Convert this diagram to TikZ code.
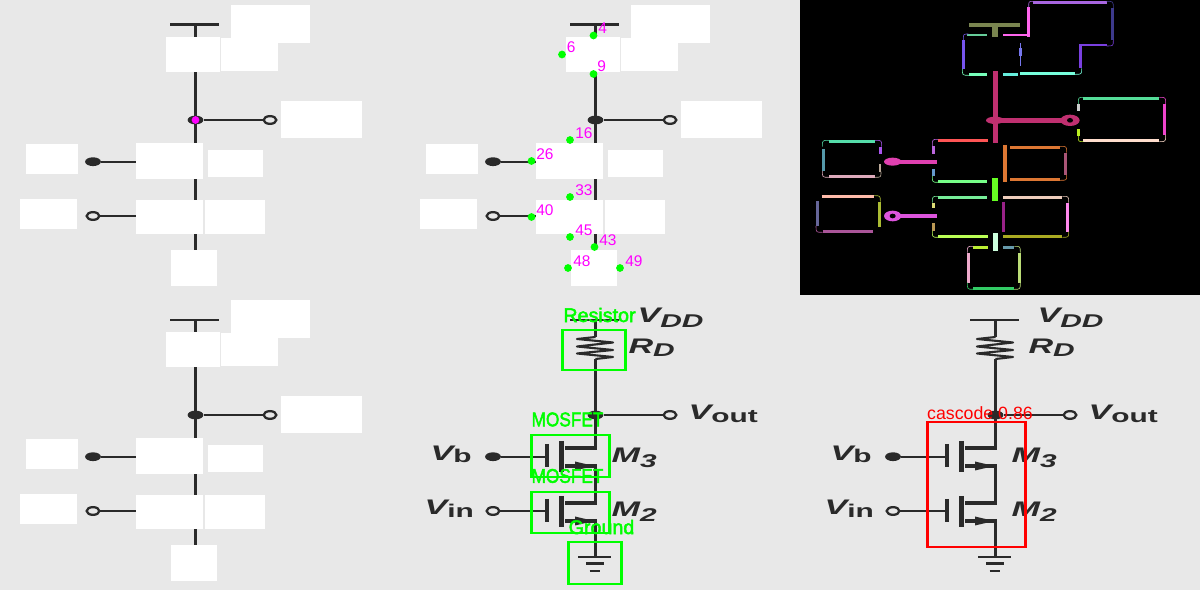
\documentclass[tikz,border=0pt]{standalone}
\usepackage{fontspec}
\usetikzlibrary{shapes.geometric}
\setmainfont{Liberation Sans}
\newfontfamily\hershey[FakeBold=2.5]{Liberation Sans}
\definecolor{bgc}{HTML}{E8E8E8}
\definecolor{ink}{HTML}{2A2A2A}
\definecolor{gr}{HTML}{00FF00}
\definecolor{mg}{HTML}{FF00FF}
\definecolor{rd}{HTML}{FF0000}
\tikzset{
  wire/.style={ink,line width=2pt},
  thinwire/.style={ink,line width=1.2pt},
  plate/.style={ink,line width=2.6pt},
  lbl/.style={anchor=base west,inner sep=0pt,xscale=1.62,transform shape,text=ink,font=\fontsize{12}{13}\selectfont\bfseries\itshape},
  mask/.style={fill=white,draw=none},
  gbox/.style={draw=gr,line width=1.7pt},
  gtxt/.style={anchor=center,inner sep=0pt,text=gr,font=\hershey\fontsize{11.2}{12}\selectfont},
  mtxt/.style={anchor=center,inner sep=0pt,text=gr,yscale=1.15,transform shape,font=\hershey\fontsize{9.8}{12}\selectfont},
  ptnum/.style={anchor=west,inner sep=0pt,text=mg,font=\fontsize{8.8}{10}\selectfont},
  ptdot/.style={circle,fill=gr,inner sep=0pt,minimum size=4.4pt}
}
\newcommand{\subs}[2]{\raisebox{-#1pt}{\fontsize{10.5}{12}\selectfont #2}}
\newcommand{\subu}[2]{\raisebox{-#1pt}{\fontsize{10.5}{12}\selectfont\upshape #2}}
\newcommand{\ckt}{%
  \coordinate (vl) at (170,25); \coordinate (vr) at (219,25); \coordinate (vt) at (195.5,25);
  \coordinate (ra) at (195.5,42); \coordinate (rb) at (195.5,64);
  \coordinate (out) at (195.5,120); \coordinate (d3) at (195.5,153); \coordinate (s3) at (195.5,171);
  \coordinate (d2) at (195.5,208); \coordinate (s2) at (195.5,226); \coordinate (g) at (195.5,262);
  \draw[thinwire,line width=1.7pt] (vl) -- (vr);
  \draw[wire] (vt) -- (ra);
  \draw[ink,line width=1.2pt,line join=round] (ra) -- (177,44) -- (213,47.5) -- (177,51.5) -- (213,55) -- (177,58.5) -- (213,62) -- (rb);
  \draw[wire] (rb) -- (out) -- (d3) -- (165,153);
  \draw[wire] (165,171) -- (s3) -- (d2) -- (165,208);
  \draw[wire] (165,226) -- (s2) -- (g);
  \fill[ink] (194,171) -- (175,166.5) -- (175,175.5) -- cycle;
  \fill[ink] (194,226) -- (175,221.5) -- (175,230.5) -- cycle;
  \draw[plate] (161.5,146) -- (161.5,177);
  \draw[plate] (147,149) -- (147,172);
  \draw[plate] (161.5,201) -- (161.5,232);
  \draw[plate] (147,204) -- (147,227);
  \coordinate (gb) at (147,161.7); \coordinate (gi) at (147,216);
  \node[ellipse,fill=ink,minimum width=9pt,minimum height=5pt,inner sep=0pt] (nb) at (93,161.7) {};
  \node[ellipse,draw=ink,line width=1.3pt,fill=bgc,minimum width=7.2pt,minimum height=4.4pt,inner sep=0pt] (ni) at (93,216) {};
  \node[ellipse,fill=ink,minimum width=9pt,minimum height=5pt,inner sep=0pt] (no) at (out) {};
  \node[ellipse,draw=ink,line width=1.3pt,fill=bgc,minimum width=7.2pt,minimum height=4.4pt,inner sep=0pt] (nv) at (270,120) {};
  \draw[thinwire] (nb) -- (gb);
  \draw[thinwire] (ni) -- (gi);
  \draw[thinwire] (no) -- (nv);
  \draw[wire,line width=1.6pt] (178,262) -- (211,262);
  \draw[ink,line width=2.2pt] (186,268.5) -- (204,268.5);
  \draw[ink,line width=1.6pt] (189.5,276) -- (200,276);
}
\newcommand{\cktlabels}{%
  \node[lbl] (lvdd) at (237,28) {V\subs{2.3}{DD}};
  \node[lbl] (lrd) at (228,59) {R\subs{1.7}{D}};
  \node[lbl] (lvout) at (288,125) {V\subu{1.2}{out}};
  \node[lbl] (lvb) at (30,166) {V\subu{0.6}{b}};
  \node[lbl] (lvin) at (24,220) {V\subu{1.2}{in}};
  \node[lbl] (lm3) at (211,168) {M\subs{2.8}{3}};
  \node[lbl] (lm2) at (211,222) {M\subs{2.8}{2}};
}
\newcommand{\masks}{%
  \fill[mask] (231,5) rectangle (310,43);
  \fill[mask] (166,37) rectangle (220,72);
  \fill[mask] (221,38) rectangle (278,71);
  \fill[mask] (281,101) rectangle (362,138);
  \fill[mask] (136,143) rectangle (203,179);
  \fill[mask] (208,150) rectangle (263,177);
  \fill[mask] (26,144) rectangle (78,174);
  \fill[mask] (20,199) rectangle (77,229);
  \fill[mask] (136,200) rectangle (203,234);
  \fill[mask] (205,200) rectangle (265,234);
  \fill[mask] (171,250) rectangle (217,286);
}
\newcommand{\seg}[6]{\definecolor{tmpc}{HTML}{#1}\draw[tmpc,line width=#6*0.2pt] (#2,#3) -- (#4,#5);}
\newcommand{\crn}[6]{\definecolor{tmpc}{HTML}{#1}\draw[tmpc,line width=0.35pt] (#2,#3) .. controls (#4,#5) and (#4,#5) .. #6;}
\begin{document}
\begin{tikzpicture}[x=0.02cm,y=-0.02cm]
\useasboundingbox (0,0) rectangle (1200,590);
\fill[bgc] (0,0) rectangle (1200,590);
% panel 1
\begin{scope}[name prefix=a-]
  \ckt
  \masks
  \node[circle,fill=mg,inner sep=0pt,minimum size=4.4pt] (hot) at (195.5,120) {};
\end{scope}
% panel 2
\begin{scope}[shift={(400,0)},name prefix=b-]
  \ckt
  \masks
  \foreach \n/\x/\y/\lx/\ly in {4/193.5/35.5/198/28,6/162/54.5/166.5/47,9/193.5/74/197/66,16/170/140/175/133,26/131.5/161/136/154,33/170/197/175/190,40/131.5/217/136/210,45/170/237/175/230,43/194.5/247/199/240,48/168/268/173/261,49/220/268/225/261}{
    \node[ptdot] (d\n) at (\x,\y) {};
    \node[ptnum] (t\n) at (\lx,\ly) {\n};
  }
\end{scope}
% panel 3
\fill[black] (800,0) rectangle (1200,295);
\begin{scope}[shift={(800,0)},scale=1/3]
  \seg{7A8550}{507}{75}{660}{75}{11}
  \seg{7A8550}{586}{80}{586}{112}{17}
  \seg{A866E0}{700}{7}{920}{7}{8}
  \seg{3D3A8C}{937}{25}{937}{120}{8}
  \seg{7A40E0}{838}{135}{920}{135}{8}
  \seg{7A40E0}{841}{135}{841}{205}{8}
  \seg{FF66EE}{686}{22}{686}{110}{8}
  \seg{FF66EE}{610}{104}{690}{104}{6}
  \seg{66CC99}{500}{104}{560}{104}{5}
  \seg{7755EE}{490}{120}{490}{207}{8}
  \seg{77FFBB}{507}{223}{560}{223}{8}
  \seg{66EEDD}{610}{223}{655}{223}{8}
  \seg{77FFDD}{660}{220}{825}{220}{8}
  \definecolor{tmpc}{HTML}{7777EE}
  \draw[tmpc,line width=0.4pt] (661,130) -- (661,197);
  \draw[tmpc,line width=0.4pt] (658,145) rectangle (665,166);
  % output net
  \definecolor{tmpc}{HTML}{C03070}
  \fill[tmpc] (585,361) ellipse [x radius=27,y radius=11];
  \seg{C03070}{587}{214}{587}{430}{13}
  \seg{C03070}{600}{361}{785}{361}{14}
  \definecolor{tmpc}{HTML}{C03070}
  \fill[tmpc] (810,361) ellipse [x radius=29,y radius=17];
  \fill[black] (810,361) ellipse [x radius=9,y radius=7];
  \seg{55DD99}{850}{295}{1078}{295}{8}
  \seg{EE44CC}{1093}{312}{1093}{405}{8}
  \seg{FFDDCC}{850}{421}{1078}{421}{8}
  \seg{CCCCCC}{835}{312}{835}{332}{7}
  \seg{BBEE22}{835}{388}{835}{408}{7}
  \seg{FF5555}{415}{421}{565}{421}{8}
  \seg{BB66DD}{400}{438}{400}{461}{8}
  \seg{6699CC}{400}{508}{400}{528}{8}
  \seg{77FF88}{415}{544}{560}{544}{8}
  \definecolor{tmpc}{HTML}{E040B0}
  \fill[tmpc] (278,485) ellipse [x radius=26,y radius=12];
  \seg{E040B0}{295}{485}{410}{485}{12}
  \seg{55DDAA}{87}{424}{225}{424}{8}
  \seg{5599AA}{70}{447}{70}{513}{8}
  \seg{DDAABB}{87}{529}{225}{529}{8}
  \seg{AA55EE}{241}{440}{241}{463}{8}
  \seg{BBAA99}{241}{492}{241}{515}{5}
  \seg{DD7733}{630}{442}{780}{442}{8}
  \seg{DD7733}{630}{538}{780}{538}{8}
  \seg{DD7733}{616}{435}{616}{545}{12}
  \seg{AA5577}{796}{458}{796}{525}{8}
  \seg{66FF22}{585}{535}{585}{602}{16}
  \seg{77EE99}{415}{592}{560}{592}{8}
  \seg{DDDD77}{400}{608}{400}{625}{8}
  \seg{BB9955}{400}{670}{400}{693}{8}
  \seg{BBFF55}{415}{709}{565}{709}{8}
  \definecolor{tmpc}{HTML}{DD55DD}
  \fill[tmpc] (278,648) ellipse [x radius=26,y radius=16];
  \fill[black] (278,648) ellipse [x radius=9,y radius=7];
  \seg{DD55DD}{298}{648}{410}{648}{12}
  \seg{FFBBAA}{65}{590}{222}{590}{8}
  \seg{666699}{52}{603}{52}{678}{8}
  \seg{AA5599}{68}{694}{220}{694}{8}
  \seg{AABB33}{238}{605}{238}{680}{8}
  \seg{EECCBB}{610}{592}{787}{592}{8}
  \seg{992288}{611}{605}{611}{695}{7}
  \seg{AAAA22}{610}{709}{787}{709}{8}
  \seg{FF88EE}{802}{608}{802}{695}{8}
  \seg{CCFFDD}{587}{700}{587}{752}{16}
  \seg{BBEE33}{520}{742}{565}{742}{8}
  \seg{6699AA}{610}{742}{643}{742}{8}
  \seg{EEAACC}{505}{758}{505}{848}{8}
  \seg{BBDD77}{658}{758}{658}{848}{8}
  \seg{33CC66}{520}{865}{642}{865}{8}
  % thin rounded corners
  \crn{A866E0}{686}{22}{686}{4}{(700,4)}
  \crn{3D3A8C}{920}{4}{940}{4}{(940,25)}
  \crn{7A40E0}{940}{120}{940}{138}{(920,138)}
  \crn{77FFDD}{845}{205}{845}{223}{(825,223)}
  \crn{7755EE}{490}{120}{490}{102}{(505,102)}
  \crn{77FFBB}{487}{207}{487}{226}{(507,226)}
  \crn{55DD99}{835}{312}{835}{292}{(850,292)}
  \crn{EE44CC}{1078}{292}{1097}{292}{(1097,312)}
  \crn{FFDDCC}{1097}{405}{1097}{425}{(1078,425)}
  \crn{BBEE22}{835}{408}{835}{425}{(850,425)}
  \crn{BB66DD}{397}{438}{397}{418}{(415,418)}
  \crn{77FF88}{397}{528}{397}{547}{(415,547)}
  \crn{55DDAA}{67}{440}{67}{421}{(87,421)}
  \crn{DDAABB}{67}{513}{67}{532}{(87,532)}
  \crn{AA55EE}{225}{421}{245}{421}{(245,440)}
  \crn{BBAA99}{243}{515}{243}{532}{(225,532)}
  \crn{DD7733}{780}{439}{800}{439}{(800,458)}
  \crn{DD7733}{800}{525}{800}{541}{(780,541)}
  \crn{77EE99}{397}{608}{397}{589}{(415,589)}
  \crn{BBFF55}{397}{693}{397}{712}{(415,712)}
  \crn{AABB33}{222}{587}{241}{587}{(241,605)}
  \crn{AA5599}{48}{678}{48}{697}{(68,697)}
  \crn{EECCBB}{787}{589}{806}{589}{(806,608)}
  \crn{AAAA22}{806}{695}{806}{712}{(787,712)}
  \crn{EEAACC}{502}{758}{502}{739}{(520,739)}
  \crn{33CC66}{502}{848}{502}{868}{(520,868)}
  \crn{BBDD77}{643}{739}{661}{739}{(661,758)}
  \crn{BBDD77}{661}{848}{661}{868}{(642,868)}
\end{scope}
% panel 4
\begin{scope}[shift={(0,295)},name prefix=c-]
  \ckt
  \masks
\end{scope}
% panel 5
\begin{scope}[shift={(400,295)},name prefix=e-]
  \ckt
  \cktlabels
  \draw[gbox] (162,35) rectangle (225,75);
  \draw[gbox] (131,140) rectangle (209,182);
  \draw[gbox] (131,197) rectangle (209,238);
  \draw[gbox] (168,247) rectangle (221,289);
  \node[gtxt] (tres) at (199.5,20) {Resistor};
  \node[mtxt] (tm1) at (167.5,124.5) {MOSFET};
  \node[mtxt] (tm2) at (167.5,181) {MOSFET};
  \node[gtxt] (tgnd) at (201.5,232) {Ground};
\end{scope}
% panel 6
\begin{scope}[shift={(800,295)},name prefix=f-]
  \ckt
  \cktlabels
  \draw[rd,line width=1.7pt] (127,127) rectangle (225,252);
  \node[anchor=center,inner sep=0pt,text=rd,font=\fontsize{10.1}{11}\selectfont] (tcas) at (180,118) {cascode 0.86};
\end{scope}
\end{tikzpicture}
\end{document}
